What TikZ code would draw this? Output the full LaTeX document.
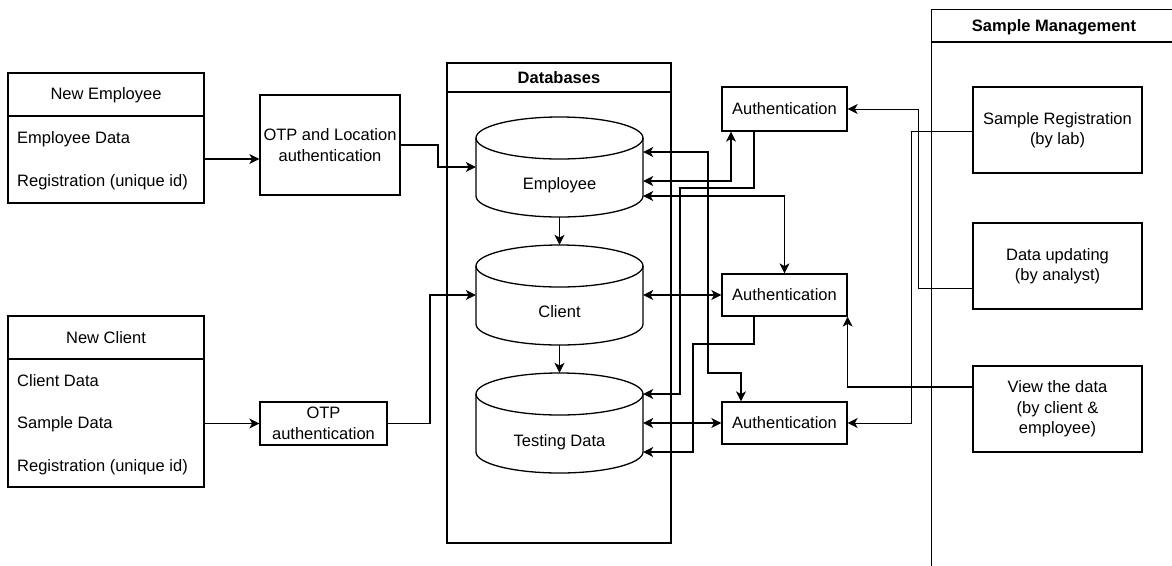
\documentclass[tikz,border=0pt]{standalone}
\usepackage{fontspec}
\setmainfont{Liberation Sans}
\usetikzlibrary{arrows.meta}
\begin{document}
\begin{tikzpicture}[x=1pt,y=-1pt,
  every node/.style={font=\fontsize{16.5}{20.5}\selectfont, inner sep=0pt},
  ln/.style={line width=1.3pt},
  box/.style={draw, line width=1.3pt, align=center},
  cylbox/.style={draw=none, minimum width=167pt, minimum height=100pt},
  tip/.tip={Stealth[length=10pt,width=10pt,inset=2.8pt]},
  con/.style={line width=1.2pt, -tip},
  conb/.style={line width=1.2pt, tip-tip},
  plain/.style={line width=1.2pt}]
\useasboundingbox (0,0) rectangle (1172,565);
\clip (0,0) rectangle (1172,565);

% New Employee
\node[box, minimum width=196pt, minimum height=130pt] (nemp) at (106,138) {};
\draw[ln] (nemp.west |- 0,116) -- (nemp.east |- 0,116);
\node (nempt) at (106,95) {New Employee};
\node[anchor=west] (nemp1) at (17,139) {Employee Data};
\node[anchor=west] (nemp2) at (17,182) {Registration (unique id)};

% OTP and Location
\node[box, minimum width=140pt, minimum height=100pt] (otpl) at (330,145) {OTP and Location\\authentication};

% New Client
\node[box, minimum width=196pt, minimum height=171pt] (ncl) at (106,401.5) {};
\draw[ln] (ncl.west |- 0,359) -- (ncl.east |- 0,359);
\node (nclt) at (106,338) {New Client};
\node[anchor=west] (ncl1) at (17,381) {Client Data};
\node[anchor=west] (ncl2) at (17,424) {Sample Data};
\node[anchor=west] (ncl3) at (17,467) {Registration (unique id)};

% OTP
\node[box, minimum width=127pt, minimum height=43pt] (otp) at (323.5,423.5) {OTP\\authentication};

% Databases container
\node[box, minimum width=224pt, minimum height=480pt] (dbc) at (559,303) {};
\draw[ln] (dbc.west |- 0,92) -- (dbc.east |- 0,92);
\node (dbt) at (559,78) {\bfseries Databases};

% Employee cylinder
\node[cylbox] (emp) at (559.5,167) {};
\draw[ln] (476,138) -- (476,196) arc[start angle=180,end angle=0,x radius=83.5,y radius=21] -- (643,138);
\draw[ln] (559.5,138) ellipse [x radius=83.5, y radius=21];
\node (empt) at (559.5,185) {Employee};

% Client cylinder
\node[cylbox] (cli) at (559.5,295) {};
\draw[ln] (476,266) -- (476,324) arc[start angle=180,end angle=0,x radius=83.5,y radius=21] -- (643,266);
\draw[ln] (559.5,266) ellipse [x radius=83.5, y radius=21];
\node (clit) at (559.5,312) {Client};

% Testing Data cylinder
\node[cylbox] (tst) at (559.5,423) {};
\draw[ln] (476,394) -- (476,452) arc[start angle=180,end angle=0,x radius=83.5,y radius=21] -- (643,394);
\draw[ln] (559.5,394) ellipse [x radius=83.5, y radius=21];
\node (tstt) at (559.5,442) {Testing Data};

% Authentication boxes
\node[box, minimum width=125pt, minimum height=44pt] (a1) at (784.5,109) {Authentication};
\node[box, minimum width=125pt, minimum height=42pt] (a2) at (784.5,295) {Authentication};
\node[box, minimum width=125pt, minimum height=42pt] (a3) at (784.5,423) {Authentication};

% Sample Management container
\node[draw, line width=1.3pt, anchor=north west, minimum width=330pt, minimum height=600pt] (smc) at (931,9) {};
\draw[ln] (smc.west |- 0,42) -- (smc.east |- 0,42);
\node (smt) at (1054,27) {\bfseries Sample Management};

\node[box, minimum width=169pt, minimum height=86pt] (sreg) at (1057.5,130) {Sample Registration\\(by lab)};
\node[box, minimum width=169pt, minimum height=86pt] (dupd) at (1057.5,266) {Data updating\\(by analyst)};
\node[box, minimum width=169pt, minimum height=86pt] (view) at (1057.5,409) {View the data\\(by client \&\\employee)};

% Left connectors
\draw[con] (nemp.east |- 0,159) -- (otpl.west |- 0,159);
\draw[con] (otpl.east) -- (438,145) |- (emp.west);
\draw[con] (ncl.east |- otp.west) -- (otp.west);
\draw[con] (otp.east) -- (430,423.5) |- (cli.west);

% Between databases
\draw[con] (emp.south) -- (cli.north);
\draw[con] (cli.south) -- (tst.north);

% Database <-> authentication
\draw[conb] (emp.east |- 0,152) -- (708,152) |- (741,373) -- (741,0 |- a3.north);
\draw[conb] (emp.east |- 0,181) -| (731,0 |- a1.south);
\draw[con] (754,0 |- a1.south) -- (754,188) -- (680,188) -- (680,394) -- (tst.east |- 0,394);
\draw[conb] (emp.east |- 0,196) -| (a2.north);
\draw[conb] (cli.east |- a2.west) -- (a2.west);
\draw[con] (754,0 |- a2.south) -- (754,344) -- (693,344) -- (693,452) -- (tst.east |- 0,452);
\draw[conb] (tst.east |- a3.west) -- (a3.west);

% Sample management -> authentication
\draw[con, line width=1pt] (dupd.west |- 0,288) -- (918,288) |- (a1.east);
\draw[con, line width=1pt] (sreg.west |- 0,131) -- (911,131) |- (a3.east);
\draw[con] (view.west |- 0,387) -| (a2.south east);
\end{tikzpicture}
\end{document}
